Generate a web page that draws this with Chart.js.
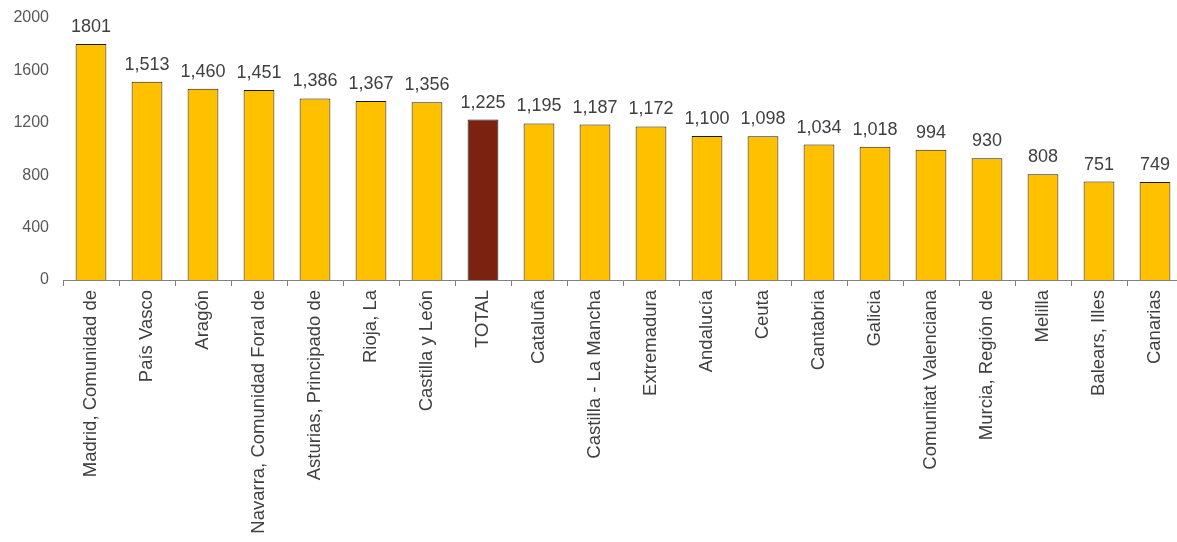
<!DOCTYPE html>
<html>
<head>
<meta charset="utf-8">
<script src="https://cdn.jsdelivr.net/npm/chart.js@4/dist/chart.umd.min.js"></script>
<style>
  html, body { margin: 0; padding: 0; background: #fff; overflow: hidden; }
  #wrap { width: 1183px; height: 542px; }
</style>
</head>
<body>
<div id="wrap"><canvas id="gasto"></canvas></div>
<script>
const regiones = [
    "Madrid, Comunidad de", "País Vasco", "Aragón", "Navarra, Comunidad Foral de",
    "Asturias, Principado de", "Rioja, La", "Castilla y León", "TOTAL", "Cataluña",
    "Castilla - La Mancha", "Extremadura", "Andalucía", "Ceuta", "Cantabria", "Galicia",
    "Comunitat Valenciana", "Murcia, Región de", "Melilla", "Balears, Illes", "Canarias"
];
const valores = [1801, 1513, 1460, 1451, 1386, 1367, 1356, 1225, 1195, 1187, 1172, 1100, 1098, 1034, 1018, 994, 930, 808, 751, 749];
const etiquetas = ["1801", "1,513", "1,460", "1,451", "1,386", "1,367", "1,356", "1,225", "1,195", "1,187", "1,172", "1,100", "1,098", "1,034", "1,018", "994", "930", "808", "751", "749"];
const ticksY = [0, 400, 800, 1200, 1600, 2000];

const fuente = "'Liberation Sans', Arial, sans-serif";

// etiquetas encima de cada barra
const etiquetasPlugin = {
    id: "etiquetas",
    afterDatasetsDraw(chart) {
        const c = chart.ctx;
        const meta = chart.getDatasetMeta(0);
        c.save();
        c.font = "18px " + fuente;
        c.fillStyle = "#404040";
        c.textAlign = "center";
        c.textBaseline = "alphabetic";
        meta.data.forEach((bar, i) => {
            c.fillText(etiquetas[i], bar.x, bar.y - 12);
        });
        c.restore();
    }
};

new Chart(document.getElementById("gasto"), {
    type: "bar",
    data: {
        labels: regiones,
        datasets: [{
            data: valores,
            backgroundColor: regiones.map(r => r === "TOTAL" ? "#7B2310" : "#FFC000"),
            borderColor: "#1a1a1a",
            borderWidth: 1,
            barPercentage: 0.55,
            categoryPercentage: 1,
        }],
    },
    options: {
        responsive: true,
        maintainAspectRatio: false,
        animation: false,
        layout: { padding: { top: 18, right: 0, left: 0, bottom: 0 } },
        plugins: {
            legend: { display: false },
            tooltip: { enabled: false },
        },
        scales: {
            x: {
                grid: {
                    offset: true,
                    drawOnChartArea: false,
                    drawTicks: true,
                    tickLength: 6,
                    color: "#808080",
                },
                border: { color: "#808080" },
                ticks: {
                    minRotation: 90,
                    maxRotation: 90,
                    autoSkip: false,
                    padding: 4,
                    color: "#404040",
                    font: { family: fuente, size: 18.5 },
                },
                afterFit(scale) { scale.height = 262; },
            },
            y: {
                min: 0,
                max: 2000,
                afterBuildTicks(scale) { scale.ticks = ticksY.map(v => ({ value: v })); },
                grid: { display: false },
                border: { display: false },
                ticks: {
                    padding: 6,
                    color: "#595959",
                    font: { family: fuente, size: 16 },
                    callback: v => String(v),
                },
                afterFit(scale) { scale.width = 63; },
            },
        },
    },
    plugins: [etiquetasPlugin],
});
</script>
</body>
</html>
